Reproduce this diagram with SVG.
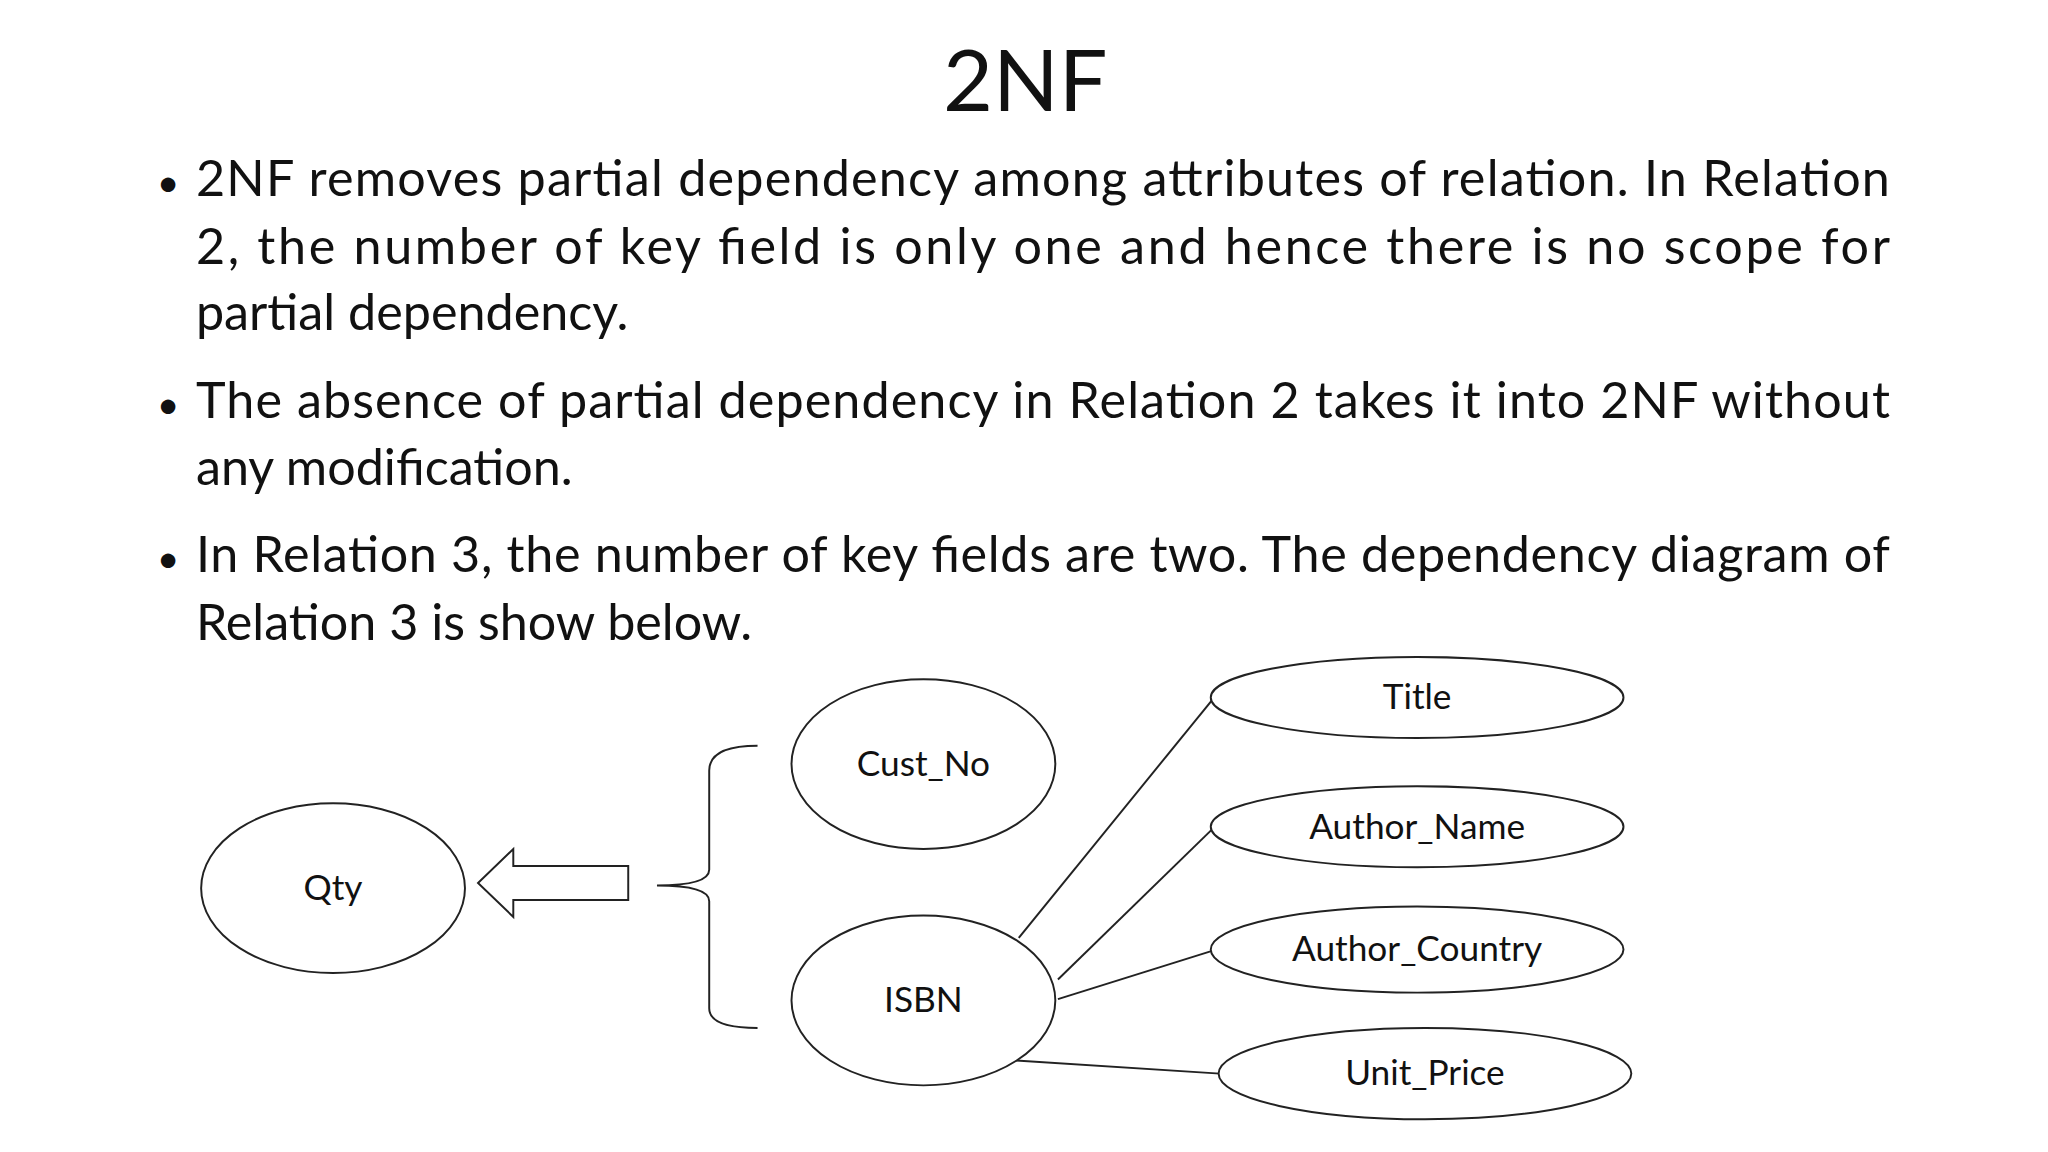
<svg xmlns="http://www.w3.org/2000/svg" width="2048" height="1152" viewBox="0 0 2048 1152">
<style>
.t{font-family:Lato,"Open Sans",sans-serif;fill:#111}
.b{font-size:38.5px}
.l{font-size:27px;text-anchor:middle}
.e{fill:#fff;stroke:#222;stroke-width:1.5}
.c{fill:none;stroke:#222;stroke-width:1.5}
</style>
<rect width="2048" height="1152" fill="#fff"/>
<g transform="scale(1.3061)">
<g id="title"><text class="t" x="785" y="85" font-size="66" text-anchor="middle">2NF</text></g>
<g id="bullets" class="t b">
<text x="120" y="150" font-size="30">•</text>
<text x="150" y="150" textLength="1297" lengthAdjust="spacing">2NF removes partial dependency among attributes of relation. In Relation</text>
<text x="150" y="202" textLength="1297" lengthAdjust="spacing">2, the number of key field is only one and hence there is no scope for</text>
<text x="150" y="253">partial dependency.</text>
<text x="120" y="320" font-size="30">•</text>
<text x="150" y="320" textLength="1297" lengthAdjust="spacing">The absence of partial dependency in Relation 2 takes it into 2NF without</text>
<text x="150" y="371">any modification.</text>
<text x="120" y="438" font-size="30">•</text>
<text x="150" y="438" textLength="1297" lengthAdjust="spacing">In Relation 3, the number of key fields are two. The dependency diagram of</text>
<text x="150" y="490">Relation 3 is show below.</text>
</g>
<g id="connectors">
<line class="c" x1="780" y1="718" x2="928" y2="536"/>
<line class="c" x1="810" y1="750" x2="928" y2="635"/>
<line class="c" x1="810" y1="765" x2="928" y2="728"/>
<line class="c" x1="778" y1="812" x2="934" y2="822"/>
<path class="c" d="M580,571 Q543,571 543,590 L543,666 Q543,678 503,678 Q543,678 543,690 L543,772 Q543,787 580,787"/>
<path class="c" d="M366,676 L393,650 L393,663 L481,663 L481,689 L393,689 L393,702 Z"/>
</g>
<g id="qty"><ellipse class="e" cx="255" cy="680" rx="101" ry="65"/><text class="t l" x="255" y="689">Qty</text></g>
<g id="cust_no"><ellipse class="e" cx="707" cy="585" rx="101" ry="65"/><text class="t l" x="707" y="594">Cust_No</text></g>
<g id="isbn"><ellipse class="e" cx="707" cy="766" rx="101" ry="65"/><text class="t l" x="707" y="775">ISBN</text></g>
<g id="title_attr"><ellipse class="e" cx="1085" cy="534" rx="158" ry="31"/><text class="t l" x="1085" y="543">Title</text></g>
<g id="author_name"><ellipse class="e" cx="1085" cy="633" rx="158" ry="31"/><text class="t l" x="1085" y="642">Author_Name</text></g>
<g id="author_country"><ellipse class="e" cx="1085" cy="727" rx="158" ry="33"/><text class="t l" x="1085" y="736">Author_Country</text></g>
<g id="unit_price"><ellipse class="e" cx="1091" cy="822" rx="158" ry="35"/><text class="t l" x="1091" y="831">Unit_Price</text></g>
</g>
</svg>
